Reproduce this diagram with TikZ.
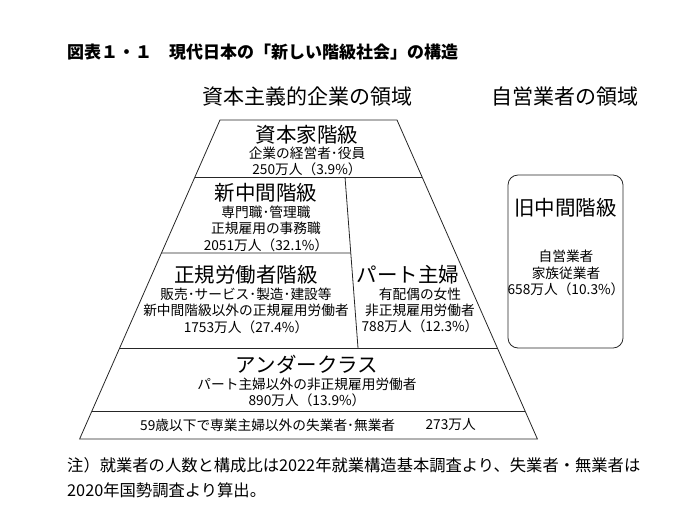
\documentclass[tikz,border=0pt]{standalone}
\usepackage{fontspec}
\setmainfont{Noto Sans CJK JP}
\usetikzlibrary{calc,positioning}

\begin{document}
\begin{tikzpicture}[x=1pt,y=-1pt,node distance=2pt,
    edge/.style={draw=black!85,line width=0.8pt},
    head/.style={inner sep=0pt,font=\fontsize{20.5}{22}\selectfont},
    area/.style={inner sep=0pt,font=\fontsize{21}{23}\selectfont},
    detail/.style={inner sep=0pt,align=center,font=\fontsize{13.7}{16.3}\selectfont},
    note/.style={inner sep=0pt,anchor=west,font=\fontsize{16.3}{18}\selectfont}]
    \useasboundingbox (0,0) rectangle (700,523);
    \node[anchor=west,inner sep=0pt,font=\fontsize{17}{19}\bfseries] (title) at (67,52) {図表１・１　現代日本の「新しい階級社会」の構造};
    \node[area] (capitalist) at (307,97) {資本主義的企業の領域};
    \node[area] (selfemp) at (565,97) {自営業者の領域};
    \coordinate (tl) at (220,120);
    \coordinate (tr) at (397,120);
    \coordinate (bl) at (79.6,439);
    \coordinate (br) at (537.4,439);
    \coordinate (dtop) at (345,177);
    \coordinate (dbot) at (358,348);
    \draw[edge] (tl) -- (tr) -- (br) -- (bl) -- cycle;
    \foreach \t in {0.1787,0.7147,0.9122}
        \draw[edge] ($(tl)!\t!(bl)$) -- ($(tr)!\t!(br)$);
    \draw[edge] (dtop) -- (dbot);
    \draw[edge] ($(tl)!0.417!(bl)$) -- ($(dtop)!0.4444!(dbot)$);
    \node[head] (capital) at (307,135) {資本家階級};
    \node[detail,below=of capital] (capitalx) {企業の経営者･役員\\250万人（3.9\%）};
    \node[head] (newmid) at (266,193) {新中間階級};
    \node[detail,below=3pt of newmid] (newmidx) {専門職･管理職\\正規雇用の事務職\\2051万人（32.1\%）};
    \node[head] (worker) at (246,275) {正規労働者階級};
    \node[detail,below=3pt of worker] (workerx) {販売･サービス･製造･建設等\\新中間階級以外の正規雇用労働者\\1753万人（27.4\%）};
    \node[head] (part) at (408,275) {パート主婦};
    \node[detail,below=3pt of part,xshift=12pt] (partx) {有配偶の女性\\非正規雇用労働者\\788万人（12.3\%）};
    \node[head] (under) at (307,365) {アンダークラス};
    \node[detail,below=3pt of under] (underx) {パート主婦以外の非正規雇用労働者\\890万人（13.9\%）};
    \node[detail,anchor=west] (jobless) at (140,425) {59歳以下で専業主婦以外の失業者･無業者};
    \node[detail,right=30pt of jobless] (joblessx) {273万人};
    \node[edge,rounded corners=10pt,minimum width=115pt,minimum height=173pt] (oldbox) at (565.5,261.5) {};
    \node[head] (oldmid) at (565.5,208) {旧中間階級};
    \node[detail] (oldmidx) at (566,273) {自営業者\\家族従業者\\658万人（10.3\%）};
    \node[note] (note1) at (67,465) {注）就業者の人数と構成比は2022年就業構造基本調査より、失業者・無業者は};
    \node[note] (note2) at (67,490) {2020年国勢調査より算出。};
\end{tikzpicture}
\end{document}
